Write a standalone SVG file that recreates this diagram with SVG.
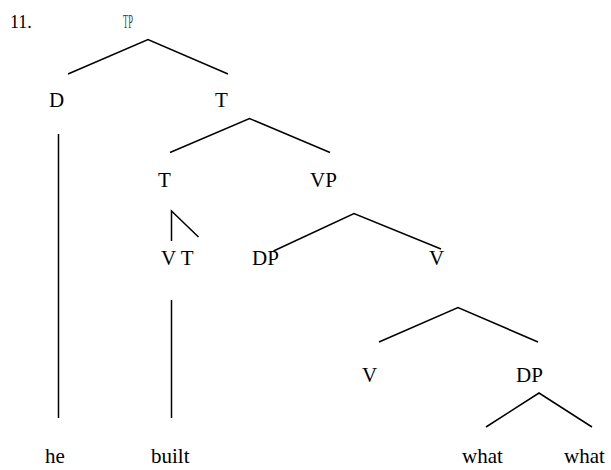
<svg xmlns="http://www.w3.org/2000/svg" width="611" height="470" viewBox="0 0 611 470">
<style>
text{font-family:"Liberation Serif","Times New Roman",serif;font-size:21px;fill:#000}
.e{stroke:#000;stroke-width:1.5;fill:none}
</style>
<rect width="611" height="470" fill="#fff"/>
<text x="10" y="28" style="font-size:18px">11.</text>
<g id="TP"><text x="123" y="28" textLength="10" lengthAdjust="spacingAndGlyphs" style="font-size:19px;fill:#444">TP</text></g>
<g id="D"><text x="49" y="107">D</text></g>
<g id="T1"><text x="215" y="107">T</text></g>
<g id="T2"><text x="158" y="187">T</text></g>
<g id="VP"><text x="310" y="187">VP</text></g>
<g id="VT"><text x="161" y="265">V T</text></g>
<g id="DP1"><text x="252" y="265">DP</text></g>
<g id="V1"><text x="429" y="265">V</text></g>
<g id="V2"><text x="362" y="382">V</text></g>
<g id="DP2"><text x="516" y="382">DP</text></g>
<g id="he"><text x="45" y="463">he</text></g>
<g id="built"><text x="151" y="463">built</text></g>
<g id="what1"><text x="462" y="463">what</text></g>
<g id="what2"><text x="564" y="463">what</text></g>
<g id="connectors" class="e">
<polyline points="68,74 148,39.5 228,74"/>
<polyline points="170,152.5 249.5,118.5 330,152.5"/>
<polyline points="273.5,251 354,213.5 441,249"/>
<polyline points="379,342 458,307.5 538,342"/>
<polyline points="486,427 539,393 592,427"/>
<polyline points="171.5,241 171.5,211 198.5,237"/>
<line x1="58.5" y1="134" x2="58.5" y2="418"/>
<line x1="171.5" y1="300" x2="171.5" y2="418"/>
</g>
</svg>
